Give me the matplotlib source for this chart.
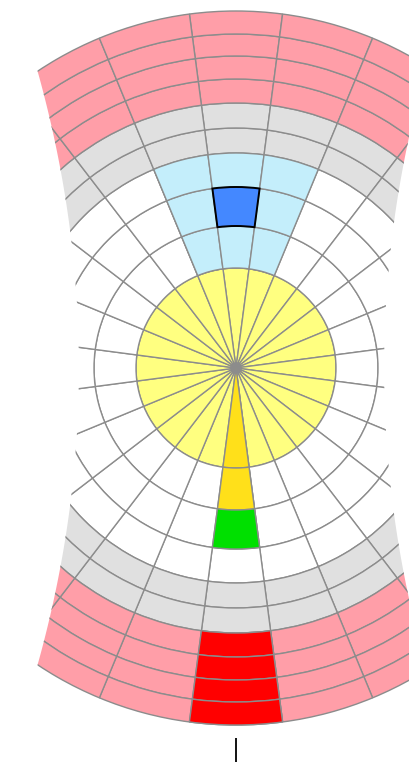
import numpy as np
import matplotlib
matplotlib.use('Agg')
import matplotlib.pyplot as plt
from matplotlib.patches import Wedge, PathPatch
from matplotlib.path import Path

# radial scale of the chart (ring edges) and number of sectors
ring_edges = [0, 100, 142, 181, 215, 240, 265, 289, 312, 334, 357]
n_sectors = 24

# bands: (first ring, last ring, colour)
band_rings = [(0, 0), (1, 3), (4, 5), (6, 9)]
band_colors = ['#ffff80', '#ffffff', '#e0e0e0', '#ff9ea8']

# highlighted cells: (sector, ring, colour)  sector 0 = top, counted clockwise
cell_sector = [23, 0, 1, 23, 0, 1, 23, 0, 1, 12, 12, 12, 12, 12, 12, 12]
cell_ring = [1, 1, 1, 2, 2, 2, 3, 3, 3, 0, 1, 2, 6, 7, 8, 9]
cell_color = ['#c4eefb'] * 9 + ['#ffe01a', '#ffe01a', '#00e000',
                                '#ff0000', '#ff0000', '#ff0000', '#ff0000']

# marked cell (black outline)
mark_sector = 0
mark_ring = 2
mark_color = '#4488ff'

grid_col = '#8c8c8c'

fig = plt.figure(figsize=(4.09, 7.62), dpi=100)
ax = fig.add_axes([0, 24 / 762, 1, 738 / 762])
ax.set_xlim(-236, 173)
ax.set_ylim(-370, 368)
ax.set_aspect('equal')
for s in ax.spines.values():
    s.set_visible(False)
ax.set_yticks([])
ax.set_xticks([0])
ax.set_xticklabels([''])
ax.tick_params(axis='x', direction='out', length=17.5, width=1.3, color='black')

# visible region (curved left/right edges)
yy = np.linspace(-380, 380, 200)
xl = -(157 + 4.7e-4 * yy**2)
xr = 148 + 4.7e-4 * yy**2
verts = np.concatenate([np.column_stack([xl, yy]), np.column_stack([xr[::-1], yy[::-1]])])
clip = PathPatch(Path(verts, closed=True), transform=ax.transData, visible=False)
ax.add_patch(clip)


def cell(sector, ring, color, ec=grid_col, lw=1.0, z=1):
    mid = 90 - 15 * sector
    r0, r1 = ring_edges[ring], ring_edges[ring + 1]
    w = Wedge((0, 0), r1, mid - 7.5, mid + 7.5, width=r1 - r0,
              facecolor=color, edgecolor=ec, linewidth=lw, zorder=z)
    ax.add_patch(w)
    w.set_clip_path(clip)
    return w


for (a, b), col in zip(band_rings, band_colors):
    for ring in range(a, b + 1):
        for k in range(n_sectors):
            cell(k, ring, col)

for k, ring, col in zip(cell_sector, cell_ring, cell_color):
    cell(k, ring, col, z=2)

cell(mark_sector, mark_ring, mark_color, ec='black', lw=1.4, z=3)

fig.savefig('out.png', dpi=100)
